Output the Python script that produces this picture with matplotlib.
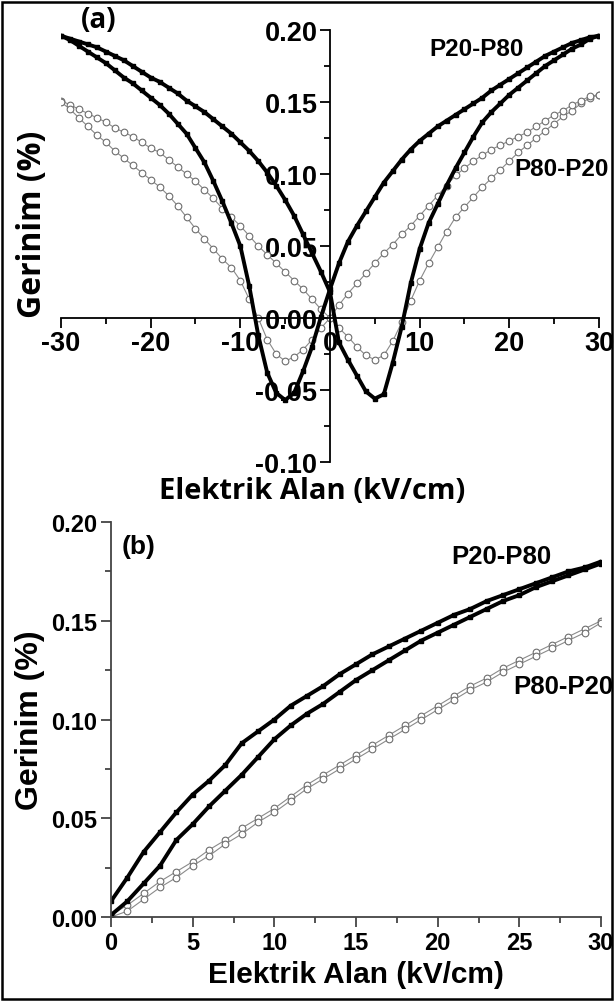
import matplotlib
matplotlib.use("Agg")
import matplotlib.pyplot as plt
from matplotlib.ticker import MultipleLocator
from matplotlib.patches import Rectangle

# ---- panel (a): bipolar strain loops, E = -30..30 kV/cm
E_a = list(range(-30, 31))

p20_up = [0.196, 0.194, 0.192, 0.190, 0.188, 0.185, 0.182, 0.179, 0.175, 0.171,
          0.167, 0.164, 0.160, 0.156, 0.151, 0.147, 0.143, 0.138, 0.133, 0.128,
          0.122, 0.116, 0.109, 0.101, 0.092, 0.082, 0.071, 0.058, 0.045, 0.032,
          0.018,
          -0.017, -0.029, -0.040, -0.051, -0.056, -0.053, -0.031, -0.006, 0.024, 0.048,
          0.066, 0.079, 0.092, 0.104, 0.115, 0.126, 0.136, 0.143, 0.149, 0.155,
          0.160, 0.165, 0.170, 0.175, 0.179, 0.183, 0.187, 0.190, 0.194, 0.196]

p20_down = [0.196, 0.193, 0.189, 0.185, 0.181, 0.177, 0.172, 0.167, 0.163, 0.158,
            0.153, 0.148, 0.142, 0.135, 0.128, 0.118, 0.108, 0.095, 0.081, 0.066,
            0.050, 0.022, -0.012, -0.038, -0.052, -0.057, -0.052, -0.037, -0.020, 0.001,
            0.020,
            0.038, 0.053, 0.064, 0.074, 0.084, 0.094, 0.102, 0.110, 0.117, 0.123,
            0.128, 0.133, 0.137, 0.141, 0.145, 0.149, 0.153, 0.158, 0.162, 0.166,
            0.170, 0.174, 0.178, 0.182, 0.185, 0.188, 0.191, 0.193, 0.195, 0.196]

p80_up = [0.151, 0.148, 0.145, 0.142, 0.139, 0.136, 0.132, 0.129, 0.126, 0.122,
          0.118, 0.115, 0.110, 0.105, 0.100, 0.095, 0.089, 0.083, 0.076, 0.070,
          0.064, 0.057, 0.050, 0.044, 0.038, 0.032, 0.026, 0.020, 0.013, 0.006,
          0.000,
          -0.007, -0.013, -0.020, -0.026, -0.029, -0.026, -0.016, -0.003, 0.012, 0.026,
          0.038, 0.049, 0.060, 0.070, 0.077, 0.084, 0.091, 0.097, 0.103, 0.109,
          0.115, 0.120, 0.125, 0.130, 0.135, 0.140, 0.144, 0.149, 0.153, 0.155]

p80_down = [0.150, 0.145, 0.139, 0.133, 0.127, 0.122, 0.116, 0.111, 0.106, 0.101,
            0.096, 0.091, 0.085, 0.078, 0.070, 0.062, 0.055, 0.048, 0.041, 0.035,
            0.026, 0.013, 0.000, -0.015, -0.025, -0.030, -0.027, -0.022, -0.015, -0.007,
            0.000,
            0.009, 0.017, 0.024, 0.031, 0.038, 0.045, 0.051, 0.058, 0.064, 0.071,
            0.078, 0.085, 0.092, 0.099, 0.104, 0.109, 0.113, 0.117, 0.120, 0.123,
            0.126, 0.129, 0.133, 0.137, 0.141, 0.144, 0.148, 0.151, 0.154, 0.155]

# ---- panel (b): unipolar strain, E = 0..30 kV/cm
E_b = list(range(0, 31))

p20_b_up = [0.008, 0.020, 0.033, 0.043, 0.053, 0.062, 0.069, 0.077, 0.088, 0.094,
            0.100, 0.107, 0.112, 0.117, 0.123, 0.128, 0.133, 0.137, 0.141, 0.145,
            0.149, 0.153, 0.156, 0.160, 0.163, 0.166, 0.169, 0.172, 0.175, 0.177, 0.180]
p20_b_down = [0.001, 0.008, 0.017, 0.026, 0.039, 0.047, 0.056, 0.064, 0.072, 0.081,
              0.090, 0.097, 0.103, 0.108, 0.114, 0.120, 0.125, 0.130, 0.135, 0.140,
              0.144, 0.148, 0.152, 0.156, 0.160, 0.163, 0.167, 0.170, 0.173, 0.176, 0.179]
p80_b_up = [0.001, 0.006, 0.012, 0.018, 0.023, 0.028, 0.034, 0.039, 0.045, 0.050,
            0.055, 0.061, 0.067, 0.072, 0.077, 0.082, 0.087, 0.092, 0.097, 0.102,
            0.107, 0.112, 0.117, 0.121, 0.126, 0.130, 0.134, 0.138, 0.142, 0.146, 0.150]
p80_b_down = [0.000, 0.003, 0.009, 0.015, 0.020, 0.026, 0.031, 0.037, 0.042, 0.048,
              0.053, 0.059, 0.065, 0.070, 0.075, 0.080, 0.085, 0.090, 0.095, 0.100,
              0.105, 0.110, 0.115, 0.119, 0.124, 0.128, 0.132, 0.136, 0.140, 0.144, 0.149]

ARIAL = "Liberation Sans"
CALIBRI = "Open Sans"

black_kw = dict(color="black", lw=2.8, marker="s", ms=3.5, mfc="black", mec="black")
grey_kw = dict(color="#8a8a8a", lw=0.8, marker="o", ms=4.8, mfc="white",
               mec="#6e6e6e", mew=0.8)

fig = plt.figure(figsize=(6.16, 10.03), dpi=100)

# ---------------- (a)
ax1 = fig.add_axes([0.0990, 0.5384, 0.8734, 0.4307])
ax1.plot(E_a, p80_up, **grey_kw)
ax1.plot(E_a, p80_down, **grey_kw)
ax1.plot(E_a, p20_up, **black_kw)
ax1.plot(E_a, p20_down, **black_kw)
ax1.set_xlim(-30, 30)
ax1.set_ylim(-0.10, 0.20)
ax1.spines["left"].set_position(("data", 0))
ax1.spines["bottom"].set_position(("data", 0))
ax1.spines["top"].set_visible(False)
ax1.spines["right"].set_visible(False)
for s in ("left", "bottom"):
    ax1.spines[s].set_linewidth(1.3)
ax1.xaxis.set_major_locator(MultipleLocator(10))
ax1.xaxis.set_minor_locator(MultipleLocator(5))
ax1.yaxis.set_major_locator(MultipleLocator(0.05))
ax1.yaxis.set_minor_locator(MultipleLocator(0.025))
ax1.yaxis.set_major_formatter(lambda v, p: f"{v:.2f}")
ax1.xaxis.set_major_formatter(lambda v, p: f"{v:.0f}")
ax1.tick_params(which="major", direction="out", length=7, width=1.3, pad=2)
ax1.tick_params(which="minor", direction="out", length=4, width=1.3)
for lab in ax1.get_xticklabels() + ax1.get_yticklabels():
    lab.set_fontfamily(ARIAL)
    lab.set_fontweight("bold")
    lab.set_fontsize(19.5)
ax1.text(-25.8, 0.207, "(a)", family=CALIBRI, fontsize=20, fontweight="bold",
         ha="center", va="center")
ax1.text(16.4, 0.187, "P20-P80", family=ARIAL, fontsize=17.5, fontweight="bold",
         ha="center", va="center")
ax1.text(20.6, 0.104, "P80-P20", family=ARIAL, fontsize=17.5, fontweight="bold",
         ha="left", va="center")
fig.text(33 / 616, 1 - 224 / 1003, "Gerinim (%)", family=CALIBRI, fontsize=23,
         fontweight="bold", rotation=90, ha="center", va="center")
fig.text(312 / 616, 1 - 492 / 1003, "Elektrik Alan (kV/cm)", family=CALIBRI,
         fontsize=21, fontweight="bold", ha="center", va="center")

# ---------------- (b)
ax2 = fig.add_axes([0.1802, 0.0847, 0.7955, 0.3938])
ax2.plot(E_b, p80_b_up, **grey_kw)
ax2.plot(E_b, p80_b_down, **grey_kw)
ax2.plot(E_b, p20_b_up, **black_kw)
ax2.plot(E_b, p20_b_down, **black_kw)
ax2.set_xlim(0, 30)
ax2.set_ylim(0, 0.20)
ax2.spines["top"].set_visible(False)
ax2.spines["right"].set_visible(False)
for s in ("left", "bottom"):
    ax2.spines[s].set_linewidth(1.3)
    ax2.spines[s].set_color("#444444")
ax2.xaxis.set_major_locator(MultipleLocator(5))
ax2.xaxis.set_minor_locator(MultipleLocator(2.5))
ax2.yaxis.set_major_locator(MultipleLocator(0.05))
ax2.yaxis.set_minor_locator(MultipleLocator(0.025))
ax2.yaxis.set_major_formatter(lambda v, p: f"{v:.2f}")
ax2.xaxis.set_major_formatter(lambda v, p: f"{v:.0f}")
ax2.tick_params(which="major", direction="out", length=7, width=1.3, pad=3,
                color="#444444")
ax2.tick_params(which="minor", direction="out", length=4, width=1.3, color="#444444")
for lab in ax2.get_xticklabels() + ax2.get_yticklabels():
    lab.set_fontfamily(ARIAL)
    lab.set_fontweight("bold")
    lab.set_fontsize(17)
ax2.text(1.7, 0.188, "(b)", family=ARIAL, fontsize=19, fontweight="bold",
         ha="center", va="center")
ax2.text(23.9, 0.183, "P20-P80", family=ARIAL, fontsize=18.5, fontweight="bold",
         ha="center", va="center")
ax2.text(24.6, 0.117, "P80-P20", family=ARIAL, fontsize=18.5, fontweight="bold",
         ha="left", va="center")
fig.text(30 / 616, 1 - 720 / 1003, "Gerinim (%)", family=ARIAL, fontsize=23,
         fontweight="bold", rotation=90, ha="center", va="center")
fig.text(356 / 616, 1 - 975 / 1003, "Elektrik Alan (kV/cm)", family=ARIAL,
         fontsize=21.5, fontweight="bold", ha="center", va="center")

# outer frame
fig.patches.append(Rectangle((0.004, 0.003), 0.990, 0.994, transform=fig.transFigure,
                             fill=False, edgecolor="black", lw=1.8))

fig.savefig("out.png", dpi=100)
